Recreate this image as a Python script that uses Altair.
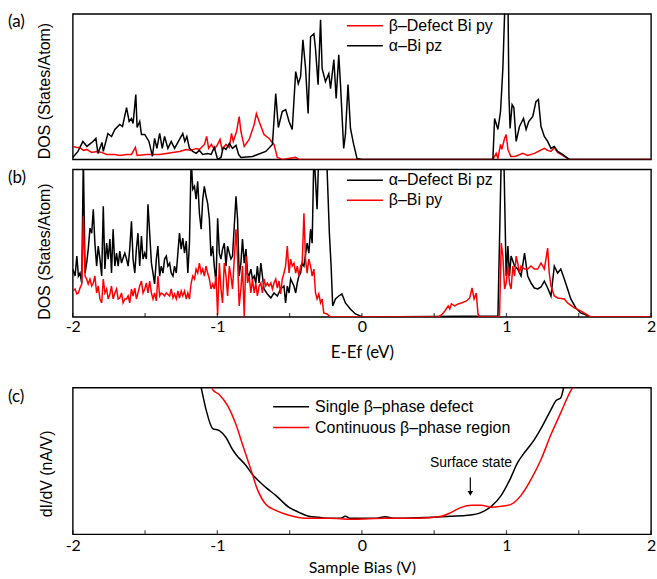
import altair as alt
import pandas as pd

# ---------------- data ----------------
X_DOMAIN = [-2, 2]
TICK_VALUES = [-2, -1.5, -1, -0.5, 0, 0.5, 1, 1.5, 2]
LABEL_VALUES = [-2, -1, 0, 1, 2]
PANEL_LABELS = ["(a)", "(b)", "(c)"]

SERIES_A = ["β–Defect Bi py", "α–Bi pz"]
COLORS_A = ["#ff0000", "#000000"]
SERIES_B = ["α–Defect Bi pz", "β–Bi py"]
COLORS_B = ["#000000", "#ff0000"]
SERIES_C = ["Single β–phase defect", "Continuous β–phase region"]
COLORS_C = ["#000000", "#ff0000"]

# panel (a): beta-defect Bi py (red)
A_RED_E = [-2.000, -1.972, -1.950, -1.927, -1.904, -1.869, -1.835, -1.800, -1.766,
           -1.709, -1.675, -1.628, -1.594, -1.567, -1.555,
           -1.491, -1.445, -1.399, -1.353, -1.308, -1.262, -1.215, -1.181, -1.147, -1.124,
           -1.089, -1.074, -1.060, -1.041, -1.021, -0.998, -0.981, -0.968, -0.940, -0.917,
           -0.902, -0.890, -0.867, -0.849, -0.837, -0.814, -0.780, -0.745, -0.730, -0.711,
           -0.677, -0.642, -0.608, -0.585, -0.551, -0.458, -0.436,
           0.906, 0.929, 0.941, 0.959, 0.968, 0.987, 0.998, 1.010, 1.030, 1.060,
           1.113, 1.147, 1.193, 1.262, 1.285, 1.308, 1.331, 1.354, 1.388, 1.434, 2.000]
A_RED_DOS = [13, 12, 12, 9, 10, 7, 8, 7, 5,
             5, 4, 5, 5, 12, 4,
             5, 5, 5, 6, 7, 8, 10, 9, 11, 10,
             15, 23, 11, 15, 10, 15, 20, 10, 15, 12,
             26, 18, 28, 43, 28, 13, 20, 35, 46, 38,
             25, 21, 15, 2, 0, 2, 0,
             0, 6, 1, 15, 10, 21, 25, 10, 3, 3,
             6, 4, 6, 11, 9, 8, 12, 7, 4, 0, 0]

# panel (a): alpha-Bi pz (black)
A_BLACK_E = [-2.000, -1.964, -1.930, -1.902, -1.868, -1.840, -1.826, -1.798, -1.789, -1.757,
             -1.732, -1.709, -1.675, -1.656, -1.628, -1.610, -1.594, -1.583, -1.564, -1.555, -1.537,
             -1.525, -1.502, -1.473, -1.449, -1.434, -1.418, -1.399, -1.381, -1.365, -1.342, -1.319, -1.296,
             -1.250, -1.239, -1.225, -1.211, -1.193, -1.170, -1.147, -1.124, -1.101, -1.067, -1.043, -1.021,
             -0.998, -0.975, -0.959, -0.940, -0.917, -0.895, -0.871, -0.853, -0.837, -0.757, -0.665, -0.619,
             -0.596, -0.578, -0.551, -0.527, -0.504, -0.482, -0.458, -0.440, -0.424, -0.408, -0.390, -0.372,
             -0.355, -0.332, -0.321, -0.303, -0.286, -0.275, -0.252, -0.229, -0.217, -0.194, -0.178, -0.160,
             -0.148, -0.126, -0.114, -0.096, -0.079, -0.057, -0.034, 0.000,
             0.906, 0.918, 0.941, 0.959, 0.975, 0.987, 0.998, 1.010, 1.017, 1.025, 1.039, 1.051,
             1.067, 1.090, 1.118, 1.136, 1.154, 1.182, 1.204, 1.221, 1.239, 1.262, 1.285, 1.308,
             1.331, 1.354, 1.388, 1.434, 2.000]
A_BLACK_DOS = [2, 8, 18, 13, 17, 21, 6, 17, 8, 26,
               23, 30, 35, 33, 52, 38, 41, 36, 65, 32, 38,
               25, 25, 18, 3, 21, 11, 26, 11, 23, 11, 18, 11,
               23, 26, 18, 23, 11, 8, 6, 9, 5, 6, 5, 12,
               0, 2, 12, 10, 16, 11, 14, 5, 2, 3, 8, 15,
               66, 32, 48, 50, 38, 30, 88, 76, 83, 120, 92, 46,
               123, 126, 111, 75, 140, 91, 78, 86, 71, 100, 61, 105,
               75, 11, 25, 75, 31, 15, 1, 0,
               0, 41, 30, 48, 91, 145, 165, 165, 65, 31, 55, 52,
               18, 33, 41, 30, 38, 43, 58, 60, 33, 23, 18, 11,
               13, 8, 5, 0, 0]

# panel (b): alpha-defect Bi pz (black)
B_BLACK_E = [-2.000, -1.984, -1.972, -1.961, -1.950, -1.938, -1.927, -1.915, -1.904, -1.893,
             -1.881, -1.869, -1.858, -1.847, -1.835, -1.824, -1.812, -1.800, -1.789, -1.778,
             -1.766, -1.755, -1.743, -1.732, -1.721, -1.709, -1.697, -1.686, -1.675, -1.663,
             -1.652, -1.640, -1.628, -1.617, -1.606, -1.594, -1.583, -1.571, -1.560, -1.549,
             -1.537, -1.525, -1.514, -1.502, -1.491, -1.480, -1.468, -1.456, -1.445, -1.434,
             -1.422, -1.411, -1.399, -1.388, -1.376, -1.365, -1.353, -1.342, -1.330, -1.319,
             -1.307, -1.296, -1.284, -1.273, -1.262, -1.250, -1.239, -1.227, -1.215, -1.204,
             -1.193, -1.181, -1.170, -1.158, -1.147, -1.136, -1.124, -1.112, -1.101, -1.090,
             -1.078, -1.067, -1.055, -1.044, -1.032, -1.021, -1.009, -0.998, -0.986, -0.975,
             -0.964, -0.952, -0.940, -0.929, -0.917, -0.906, -0.895, -0.883, -0.871, -0.860,
             -0.849, -0.837, -0.826, -0.814, -0.802, -0.791, -0.780, -0.768, -0.757, -0.745,
             -0.734, -0.723, -0.711, -0.699, -0.677, -0.654, -0.630, -0.608, -0.585, -0.562,
             -0.539, -0.528, -0.516, -0.504, -0.493, -0.470, -0.458, -0.447, -0.436, -0.424,
             -0.413, -0.401, -0.379, -0.367, -0.355, -0.344, -0.332, -0.321, -0.310, -0.298,
             -0.284, -0.264, -0.245, -0.225, -0.213, -0.202, -0.183, -0.160, -0.138, -0.114,
             -0.080, -0.045, -0.011, 0.012, 0.941, 0.964, 0.982, 0.998, 1.010, 1.021,
             1.032, 1.056, 1.078, 1.101, 1.125, 1.147, 1.170, 1.193, 1.216, 1.239,
             1.262, 1.285, 1.308, 1.331, 1.354, 1.376, 1.400, 1.423, 1.445, 1.480,
             1.514, 1.549, 1.572, 2.000]
B_BLACK_DOS = [48, 41, 61, 41, 44, 34, 160, 44, 54, 68,
               89, 84, 108, 74, 51, 71, 58, 41, 111, 48,
               74, 58, 78, 44, 88, 51, 64, 51, 66, 54,
               59, 64, 58, 51, 68, 96, 58, 44, 68, 84,
               51, 81, 58, 64, 58, 113, 84, 54, 44, 33,
               58, 71, 41, 51, 44, 58, 61, 51, 54, 44,
               41, 51, 44, 64, 84, 68, 79, 64, 76, 44,
               74, 160, 128, 131, 118, 136, 104, 88, 118, 131,
               121, 114, 98, 61, 71, 51, 34, 99, 64, 58,
               68, 74, 51, 71, 64, 58, 61, 91, 121, 98,
               41, 54, 78, 54, 68, 44, 41, 48, 38, 41,
               34, 51, 34, 54, 28, 23, 19, 24, 21, 28,
               31, 14, 31, 24, 38, 31, 24, 34, 41, 44,
               54, 51, 74, 64, 88, 74, 165, 138, 108, 165,
               165, 165, 165, 84, 51, 11, 18, 21, 23, 14,
               8, 3, 1, 0, 1, 160, 160, 41, 71, 41,
               61, 51, 48, 41, 64, 41, 34, 29, 28, 30,
               36, 29, 21, 51, 44, 48, 38, 28, 18, 9,
               4, 2, 0, 0]

# panel (b): beta-Bi py (red)
B_RED_E = [-2.000, -1.984, -1.972, -1.961, -1.950, -1.938, -1.927, -1.915, -1.904, -1.893,
           -1.881, -1.869, -1.858, -1.847, -1.835, -1.824, -1.812, -1.800, -1.789, -1.778,
           -1.766, -1.755, -1.743, -1.732, -1.721, -1.709, -1.697, -1.686, -1.675, -1.663,
           -1.652, -1.640, -1.628, -1.617, -1.606, -1.594, -1.583, -1.571, -1.560, -1.549,
           -1.537, -1.525, -1.514, -1.502, -1.491, -1.480, -1.468, -1.456, -1.445, -1.434,
           -1.422, -1.411, -1.399, -1.388, -1.376, -1.365, -1.353, -1.330, -1.319, -1.307,
           -1.296, -1.284, -1.273, -1.262, -1.250, -1.239, -1.227, -1.215, -1.204, -1.193,
           -1.181, -1.170, -1.158, -1.147, -1.136, -1.124, -1.112, -1.101, -1.090, -1.078,
           -1.067, -1.055, -1.044, -1.032, -1.021, -1.009, -0.998, -0.986, -0.975, -0.964,
           -0.952, -0.940, -0.929, -0.917, -0.906, -0.895, -0.883, -0.871, -0.860, -0.849,
           -0.837, -0.826, -0.814, -0.802, -0.791, -0.780, -0.768, -0.757, -0.745, -0.734,
           -0.723, -0.711, -0.699, -0.688, -0.677, -0.665, -0.654, -0.642, -0.630, -0.619,
           -0.608, -0.596, -0.585, -0.573, -0.562, -0.551, -0.539, -0.528, -0.516, -0.504,
           -0.493, -0.482, -0.470, -0.458, -0.447, -0.436, -0.424, -0.413, -0.401, -0.390,
           -0.379, -0.367, -0.355, -0.344, -0.332, -0.321, -0.310, -0.298, -0.286, -0.275,
           -0.264, -0.241, -0.218, 0.528, 0.551, 0.574, 0.597, 0.608, 0.619, 0.642,
           0.666, 0.688, 0.723, 0.746, 0.762, 0.776, 0.791, 0.803, 0.815, 0.941,
           0.952, 0.964, 0.975, 0.987, 0.998, 1.010, 1.021, 1.032, 1.044, 1.056,
           1.067, 1.078, 1.090, 1.101, 1.125, 1.147, 1.170, 1.193, 1.216, 1.239,
           1.262, 1.285, 1.296, 1.308, 1.331, 1.354, 1.400, 1.423, 1.469, 1.514,
           1.560, 1.583, 2.000]
B_RED_DOS = [26, 28, 23, 24, 29, 33, 101, 41, 38, 33,
             38, 31, 34, 41, 24, 31, 18, 14, 38, 24,
             28, 18, 23, 31, 18, 24, 28, 18, 19, 24,
             14, 18, 18, 21, 14, 28, 21, 29, 18, 24,
             31, 36, 24, 28, 34, 24, 36, 24, 18, 24,
             16, 41, 21, 24, 23, 21, 24, 21, 28, 19,
             23, 18, 26, 19, 26, 21, 26, 18, 24, 18,
             34, 41, 38, 48, 44, 54, 44, 48, 41, 51,
             44, 38, 28, 33, 28, 41, 2, 54, 28, 14,
             54, 41, 21, 51, 41, 28, 58, 88, 58, 11,
             28, 51, 1, 61, 34, 41, 24, 38, 24, 34,
             21, 31, 34, 24, 38, 31, 34, 31, 34, 28,
             34, 38, 29, 36, 23, 38, 44, 51, 71, 44,
             58, 51, 54, 44, 51, 41, 51, 54, 104, 58,
             44, 58, 51, 41, 48, 24, 18, 23, 14, 18,
             4, 3, 0, 0, 2, 6, 11, 8, 13, 11,
             13, 14, 16, 19, 29, 18, 24, 3, 0, 0,
             0, 74, 61, 28, 34, 51, 34, 28, 51, 41,
             61, 54, 44, 51, 48, 48, 51, 48, 48, 54,
             48, 69, 44, 31, 21, 19, 18, 14, 9, 6,
             2, 0, 0]

# panel (c): dI/dV spectra
C_BLACK_V = [-1.130, -1.112, -1.078, -1.032, -0.986, -0.940, -0.895, -0.871, -0.802, -0.757,
             -0.665, -0.596, -0.504, -0.436, -0.367, -0.298, -0.229, -0.150, -0.114, -0.080,
             -0.023, 0.100, 0.161, 0.220, 0.390, 0.619, 0.734, 0.826, 0.895, 0.964,
             1.021, 1.078, 1.136, 1.193, 1.250, 1.308, 1.342, 1.376, 1.395, 1.410]
C_BLACK_DIDV = [158, 147, 125, 106, 104, 97, 85, 80, 69, 60,
                47, 39, 27, 22, 18, 17, 16, 16, 18, 16,
                16, 16, 17.5, 16, 16.5, 18, 19, 22, 28, 39,
                54, 72, 84, 95, 109, 125, 134, 137, 147, 160]
C_RED_V = [-1.045, -1.032, -0.986, -0.929, -0.871, -0.826, -0.768, -0.723, -0.665, -0.596,
           -0.504, -0.390, -0.229, -0.069, 0.161, 0.390, 0.551, 0.619, 0.688, 0.757,
           0.826, 0.895, 0.964, 1.032, 1.101, 1.170, 1.239, 1.308, 1.376, 1.445, 1.480]
C_RED_DIDV = [150, 145, 140, 129, 110, 90, 65, 45, 30, 24,
              19, 16, 16, 15, 16, 16, 18, 22, 27, 29,
              29, 27, 28, 30, 39, 55, 75, 100, 122, 144, 152]

ANNOT_LABEL = ["Surface state"]
ANNOT_V = [0.755]
ANNOT_DIDV = [71]
ARROW_V = [0.75]
ARROW_TOP = [57]
ARROW_TIP = [41]

# ---------------- layout / style ----------------
W = 580
H_A, H_B, H_C = 146, 148, 147
XS = alt.Scale(domain=X_DOMAIN, nice=False, zero=False)


def make_df(e_lists, v_lists, names):
    frames = [pd.DataFrame({"E": e, "DOS": v, "series": n})
              for e, v, n in zip(e_lists, v_lists, names)]
    return pd.concat(frames, ignore_index=True)


def x_axis(title, label_pad, title_pad, title_size):
    return alt.Axis(values=LABEL_VALUES, labelExpr="'' + datum.value", labelFlush=False,
                    ticks=False, tickSize=0, domain=False, grid=False,
                    labelFont="Lato", labelFontSize=16, labelColor="black",
                    labelPadding=label_pad, title=title, titleFont="Lato",
                    titleFontSize=title_size, titleFontWeight="normal", titleColor="black",
                    titlePadding=title_pad)


def y_axis(title, title_y, pad):
    return alt.Axis(title=title, labels=False, ticks=False, domain=False, grid=False,
                    titleFont="Liberation Sans", titleFontSize=16, titleFontWeight="normal",
                    titleColor="black", titlePadding=pad, titleY=title_y)


def legend(x, y, row_pad):
    return alt.Legend(title=None, orient="none", legendX=x, legendY=y, rowPadding=row_pad,
                      clipHeight=16, symbolType="stroke", symbolSize=1300,
                      symbolStrokeWidth=1.5, labelFont="Liberation Sans", labelFontSize=16,
                      labelColor="black", labelOffset=5, labelLimit=400, padding=0)


def panel_label(text, dy):
    return alt.Chart(pd.DataFrame({"label": [text]})).mark_text(
        align="left", baseline="middle", font="Lato", fontSize=17, color="black"
    ).encode(text="label:N", x=alt.value(-65), y=alt.value(dy))


def inner_ticks(h, axis):
    return alt.Chart(pd.DataFrame({"E": TICK_VALUES})).mark_tick(
        orient="vertical", size=4, thickness=1.2, color="black"
    ).encode(x=alt.X("E:Q", scale=XS, axis=axis), y=alt.value(h - 2))


def line_panel(df, series, colors, ymax, xaxis, yaxis, leg, interp="linear"):
    return alt.Chart(df).mark_line(strokeWidth=1.5, clip=True, interpolate=interp).encode(
        x=alt.X("E:Q", scale=XS, axis=xaxis),
        y=alt.Y("DOS:Q", scale=alt.Scale(domain=[0, ymax], nice=False, zero=False), axis=yaxis),
        color=alt.Color("series:N", scale=alt.Scale(domain=series, range=colors), legend=leg),
    )


# panel (a)
df_a = make_df([A_RED_E, A_BLACK_E], [A_RED_DOS, A_BLACK_DOS], SERIES_A)
ya = y_axis("DOS (States/Atom)", 77, 20)
panel_a = alt.layer(
    line_panel(df_a, SERIES_A, COLORS_A, H_A, None, ya, legend(274, 4, 4)),
    panel_label(PANEL_LABELS[0], 8),
).properties(width=W, height=H_A)

# panel (b)
df_b = make_df([B_BLACK_E, B_RED_E], [B_BLACK_DOS, B_RED_DOS], SERIES_B)
xb = x_axis("E-Ef (eV)", 2, 10, 17)
yb = y_axis("DOS (States/Atom)", 82, 20)
panel_b = alt.layer(
    line_panel(df_b, SERIES_B, COLORS_B, H_B, xb, yb, legend(274, 3, 4)),
    inner_ticks(H_B, xb),
    panel_label(PANEL_LABELS[1], 9),
).properties(width=W, height=H_B)

# panel (c)
df_c = make_df([C_BLACK_V, C_RED_V], [C_BLACK_DIDV, C_RED_DIDV], SERIES_C)
xc = x_axis("Sample Bias (V)", 3, 6, 16)
yc = y_axis("dI/dV (nA/V)", 86, 18)
ysc = alt.Scale(domain=[0, H_C], nice=False, zero=False)
annot = alt.Chart(pd.DataFrame({"E": ANNOT_V, "DOS": ANNOT_DIDV, "label": ANNOT_LABEL})).mark_text(
    font="Liberation Sans", fontSize=14, color="black", align="center", baseline="middle"
).encode(x=alt.X("E:Q", scale=XS, axis=xc), y=alt.Y("DOS:Q", scale=ysc, axis=yc), text="label:N")
arrow_line = alt.Chart(pd.DataFrame({"E": ARROW_V, "DOS": ARROW_TOP, "DOS2": ARROW_TIP})).mark_rule(
    color="black", strokeWidth=1.2
).encode(x=alt.X("E:Q", scale=XS, axis=xc), y=alt.Y("DOS:Q", scale=ysc, axis=yc), y2="DOS2:Q")
arrow_head = alt.Chart(pd.DataFrame({"E": ARROW_V, "DOS": ARROW_TIP})).mark_point(
    shape="triangle-down", filled=True, size=30, color="black", opacity=1
).encode(x=alt.X("E:Q", scale=XS, axis=xc), y=alt.Y("DOS:Q", scale=ysc, axis=yc))
panel_c = alt.layer(
    line_panel(df_c, SERIES_C, COLORS_C, H_C, xc, yc, legend(200, 11, 5), interp="monotone"),
    inner_ticks(H_C, xc),
    annot, arrow_line, arrow_head,
    panel_label(PANEL_LABELS[2], 9),
).properties(width=W, height=H_C)

top = alt.vconcat(panel_a, panel_b, spacing=8).resolve_scale(color="independent", y="independent")
chart = alt.vconcat(top, panel_c, spacing=25).resolve_scale(
    color="independent", y="independent"
).properties(
    padding={"left": 7, "top": 11, "right": 0, "bottom": 0},
    background="white",
).configure_view(stroke="black", strokeWidth=1.4)

chart.save("out.html", embed_options={"renderer": "svg", "actions": False})
